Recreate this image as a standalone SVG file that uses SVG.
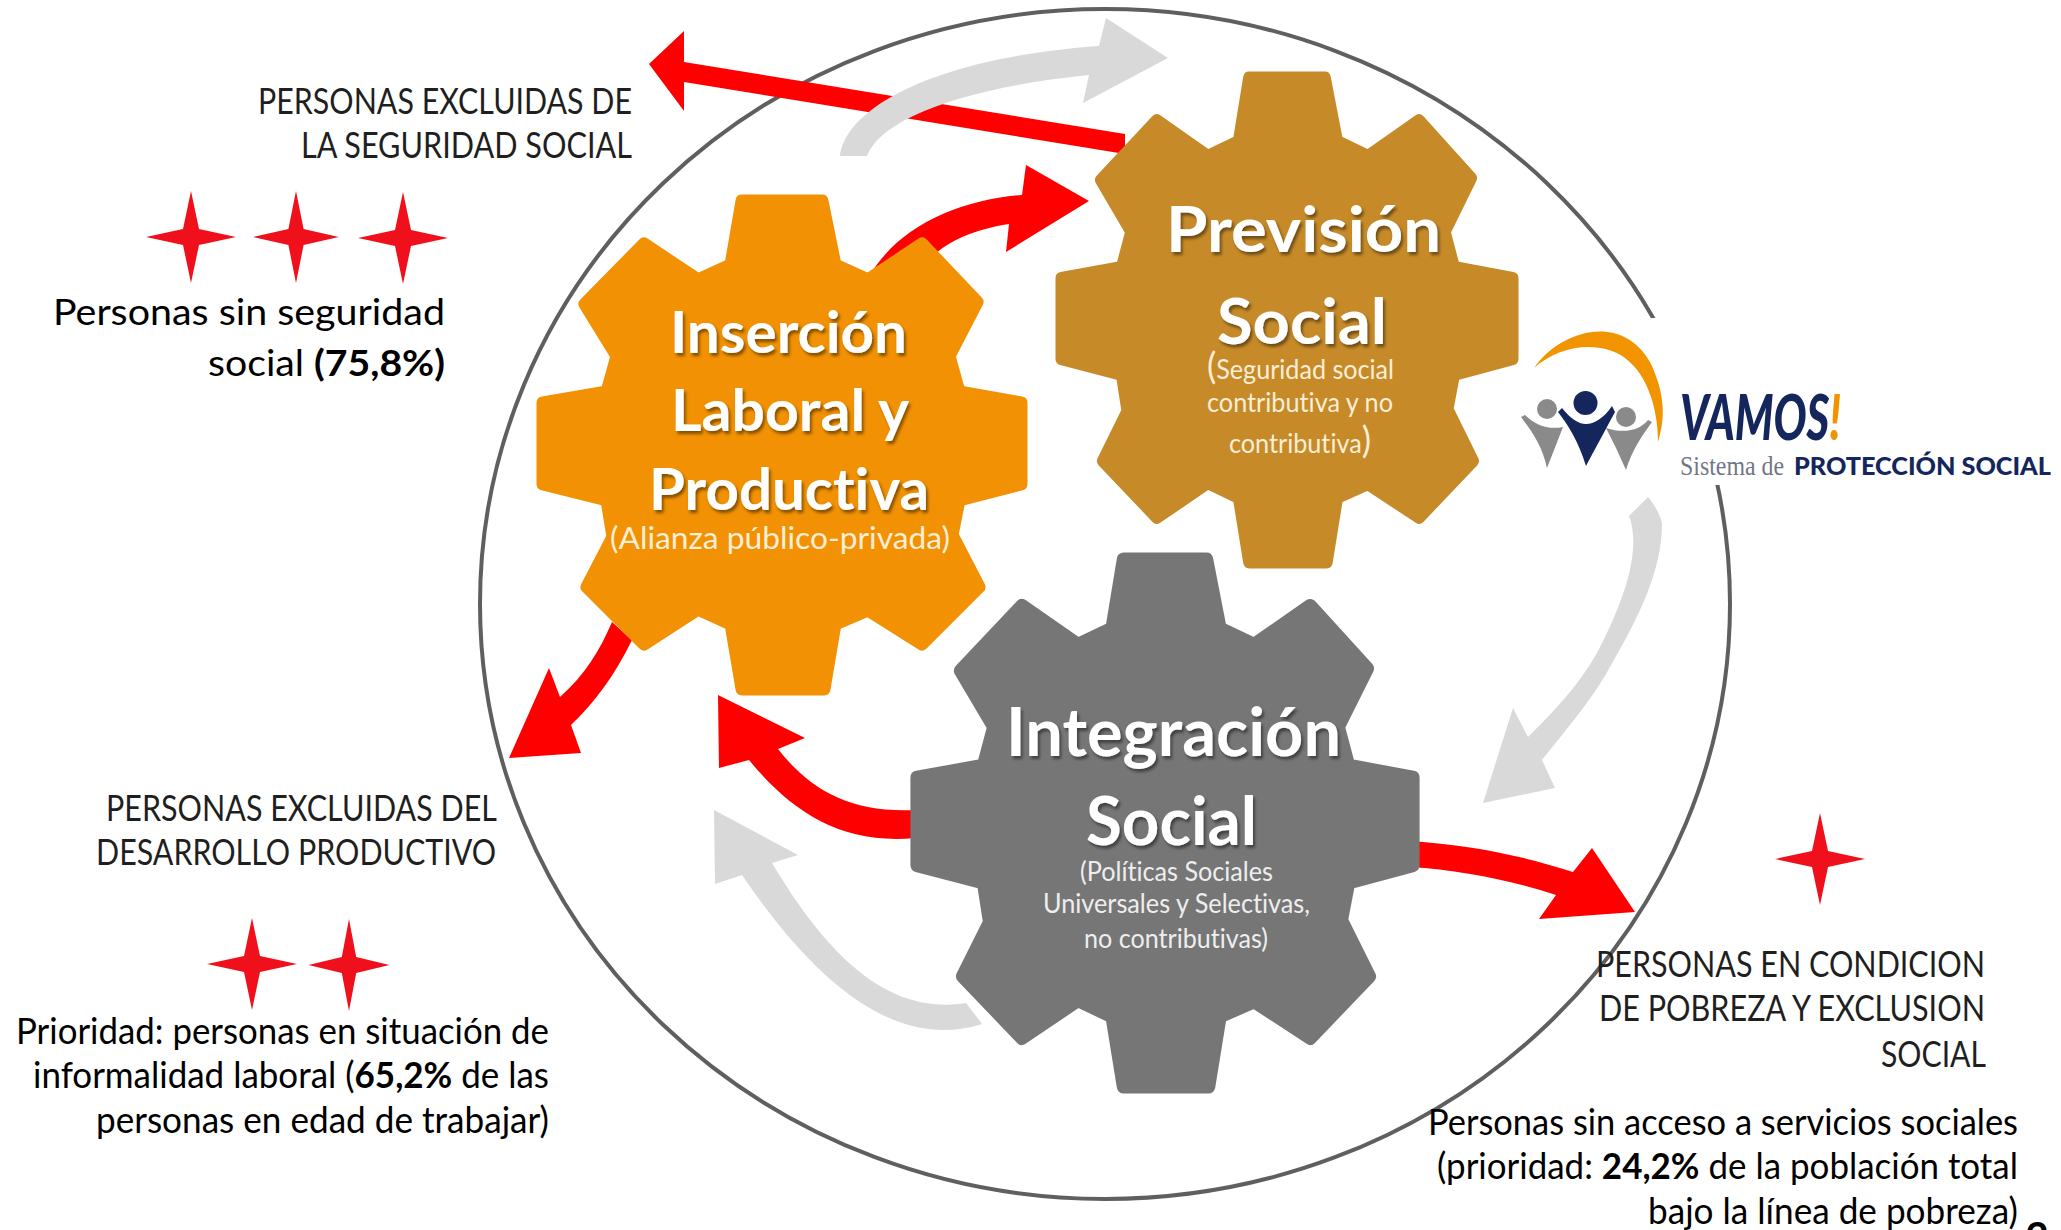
<svg xmlns="http://www.w3.org/2000/svg" xmlns:xlink="http://www.w3.org/1999/xlink" width="2061" height="1230" viewBox="0 0 2061 1230">
<style>
text{font-family:Lato,"Liberation Sans",sans-serif;font-variant-ligatures:none}
.t{font-weight:700;fill:#fff;filter:url(#sh)}
.s{fill:#fdeed6;font-size:30px}
.m{font-size:26px}
.g{fill:#eee}
.c{fill:#1f1f1f;font-size:36px;text-anchor:end}
.b{fill:#000;font-size:37px;text-anchor:end}
.b tspan{font-weight:700}
.red{fill:#fe0000}
.gry{fill:#d9d9d9}
.star{fill:#f0101c}
.gear{stroke-width:13;stroke-linejoin:round}
</style>
<defs>
<filter id="sh" x="-10%" y="-10%" width="120%" height="130%"><feDropShadow dx="2" dy="3" stdDeviation="1.5" flood-color="#000" flood-opacity=".45"/></filter>
<path id="gearShape" d="M-40,-244L40,-244L53,-180L86,-165L140,-201L195,-143L167,-89L177,-53L239,-42L239,39L177,55L170,90L197,142L140,199L86,165L53,179L42,244L-40,244L-51,179L-84,164L-138,199L-195,142L-169,92L-175,55L-239,39L-239,-42L-175,-53L-165,-89L-197,-141L-138,-201L-84,-165L-51,-180Z"/>
<path id="star4" d="M0,-46L8,-8L45,0L8,8L0,46L-8,8L-45,0L-8,-8Z"/>
</defs>
<rect width="2061" height="1230" fill="#fff"/>
<ellipse id="ring" cx="1105" cy="604" rx="625" ry="595" fill="none" stroke="#5f5f5f" stroke-width="4"/>
<rect x="1625" y="318" width="120" height="167" fill="#fff"/>
<g id="connectors">
<path class="red" d="M649,64L684,31L684,62L1125,134L1125,154L684,82L684,111Z"/>
<path class="gry" d="M840,156C845,110 930,58 1099,46L1106,18L1168,58L1083,103L1089,75C960,88 880,120 867,156Z"/>
<path class="red" d="M870,275C900,225 960,200 1022,195L1026,165L1089,201L1006,252L1009,224C965,231 940,246 920,268Z"/>
<path class="red" d="M509,758L549,668L560,697C585,675 600,650 612,622L632,640C615,675 595,702 571,725L581,753Z"/>
<path class="red" d="M718,695L805,738L778,749C810,790 850,813 915,810L915,838C840,845 790,810 749,760L719,768Z"/>
<path class="gry" d="M714,810L798,855L772,863C830,960 890,1015 966,1003L982,1024C900,1050 820,990 742,875L715,884Z"/>
<path class="red" d="M1410,841C1470,845 1520,855 1573,872L1592,848L1635,912L1539,919L1556,895C1510,880 1460,870 1410,867Z"/>
<path class="gry" d="M1648,497L1629,516C1640,545 1630,590 1597,653C1575,690 1555,710 1528,737L1513,708L1483,803L1555,788L1542,760C1570,725 1595,695 1610,667C1640,615 1662,570 1662,523C1660,515 1655,505 1648,497Z"/>
</g>
<g id="gear-insercion">
<use xlink:href="#gearShape" href="#gearShape" class="gear" fill="#f19103" stroke="#f19103" transform="translate(782,445)"/>
<text class="t" x="670" y="353" font-size="57" textLength="237" lengthAdjust="spacingAndGlyphs">Inserción</text>
<text class="t" x="671" y="431" font-size="57" textLength="238" lengthAdjust="spacingAndGlyphs">Laboral y</text>
<text class="t" x="649" y="510" font-size="57" textLength="280" lengthAdjust="spacingAndGlyphs">Productiva</text>
<text class="s" x="610" y="549" textLength="340" lengthAdjust="spacingAndGlyphs">(Alianza público-privada)</text>
</g>
<g id="gear-prevision">
<use xlink:href="#gearShape" href="#gearShape" class="gear" fill="#c68a29" stroke="#c68a29" transform="translate(1287,320) scale(.943,.992)"/>
<text class="t" x="1166" y="252" font-size="63" textLength="275" lengthAdjust="spacingAndGlyphs">Previsión</text>
<text class="t" x="1217" y="344" font-size="63" textLength="170" lengthAdjust="spacingAndGlyphs">Social</text>
<text class="s m" x="1207" y="379" textLength="187" lengthAdjust="spacingAndGlyphs"><tspan style="font-size:36px">(</tspan>Seguridad social</text>
<text class="s m" x="1207" y="412" textLength="186" lengthAdjust="spacingAndGlyphs">contributiva y no</text>
<text class="s m" x="1229" y="453" textLength="142" lengthAdjust="spacingAndGlyphs">contributiva<tspan style="font-size:36px">)</tspan></text>
</g>
<g id="gear-integracion">
<use xlink:href="#gearShape" href="#gearShape" class="gear" fill="#767676" stroke="#767676" transform="translate(1165,823) scale(1.037,1.08)"/>
<text class="t" x="1006" y="756" font-size="66" textLength="335" lengthAdjust="spacingAndGlyphs">Integración</text>
<text class="t" x="1086" y="845" font-size="66" textLength="171" lengthAdjust="spacingAndGlyphs">Social</text>
<text class="s m g" x="1080" y="881" textLength="193" lengthAdjust="spacingAndGlyphs">(Políticas Sociales</text>
<text class="s m g" x="1043" y="913" textLength="267" lengthAdjust="spacingAndGlyphs">Universales y Selectivas,</text>
<text class="s m g" x="1084" y="948" textLength="184" lengthAdjust="spacingAndGlyphs">no contributivas)</text>
</g>
<g id="logo">
<path fill="#f29400" d="M1534,368C1560,330 1622,312 1650,362C1666,395 1665,420 1658,442C1658,410 1648,375 1625,358C1600,340 1560,345 1534,368Z"/>
<circle cx="1547" cy="409" r="10" fill="#8a8a8a"/>
<circle cx="1626" cy="417" r="10" fill="#8a8a8a"/>
<path fill="#8a8a8a" d="M1521,417L1525,415C1535,425 1548,430 1563,427L1556,445L1547,468C1542,445 1532,432 1521,417Z"/>
<path fill="#8a8a8a" d="M1652,422L1648,420C1640,430 1625,434 1606,428L1616,448L1626,470C1632,450 1642,436 1652,422Z"/>
<ellipse cx="1585.5" cy="403" rx="12" ry="12" fill="#14265c"/>
<path fill="#14265c" d="M1558,412L1562,408C1570,418 1578,424 1586,424C1594,424 1604,418 1612,406L1615,412C1608,425 1600,440 1586,466C1578,440 1568,425 1558,412Z"/>
<text x="1680" y="440" font-size="62" font-weight="900" font-style="italic" fill="#14265c" textLength="161" lengthAdjust="spacingAndGlyphs">VAMOS<tspan fill="#f29400">!</tspan></text>
<text x="1680" y="475" font-size="28" fill="#6f7686" textLength="104" lengthAdjust="spacingAndGlyphs" style="font-family:'Liberation Serif',serif">Sistema de</text>
<text x="1794" y="475" font-size="25" font-weight="900" fill="#14265c" textLength="257" lengthAdjust="spacingAndGlyphs">PROTECCIÓN SOCIAL</text>
</g>
<g id="label-seguridad">
<text class="c" x="632" y="114" textLength="374" lengthAdjust="spacingAndGlyphs">PERSONAS EXCLUIDAS DE</text>
<text class="c" x="632" y="158" textLength="331" lengthAdjust="spacingAndGlyphs">LA SEGURIDAD SOCIAL</text>
<use xlink:href="#star4" href="#star4" class="star" transform="translate(191,237)"/>
<use xlink:href="#star4" href="#star4" class="star" transform="translate(296,237) scale(.95,1)"/>
<use xlink:href="#star4" href="#star4" class="star" transform="translate(403,238)"/>
<text class="b" x="445" y="325" textLength="392" lengthAdjust="spacingAndGlyphs">Personas sin seguridad</text>
<text class="b" x="445" y="376" textLength="237" lengthAdjust="spacingAndGlyphs">social <tspan>(75,8%)</tspan></text>
</g>
<g id="label-productivo">
<text class="c" x="497" y="821" textLength="391" lengthAdjust="spacingAndGlyphs">PERSONAS EXCLUIDAS DEL</text>
<text class="c" x="496" y="865" textLength="400" lengthAdjust="spacingAndGlyphs">DESARROLLO PRODUCTIVO</text>
<use xlink:href="#star4" href="#star4" class="star" transform="translate(252,964)"/>
<use xlink:href="#star4" href="#star4" class="star" transform="translate(349,965) scale(.9,1)"/>
<text class="b" x="549" y="1044" textLength="533" lengthAdjust="spacingAndGlyphs">Prioridad: personas en situación de</text>
<text class="b" x="549" y="1088" textLength="516" lengthAdjust="spacingAndGlyphs">informalidad laboral (<tspan>65,2%</tspan> de las</text>
<text class="b" x="549" y="1133" textLength="453" lengthAdjust="spacingAndGlyphs">personas en edad de trabajar)</text>
</g>
<g id="label-pobreza">
<use xlink:href="#star4" href="#star4" class="star" transform="translate(1820,859)"/>
<text class="c" x="1985" y="977" textLength="389" lengthAdjust="spacingAndGlyphs">PERSONAS EN CONDICION</text>
<text class="c" x="1985" y="1021" textLength="386" lengthAdjust="spacingAndGlyphs">DE POBREZA Y EXCLUSION</text>
<text class="c" x="1986" y="1067" textLength="105" lengthAdjust="spacingAndGlyphs">SOCIAL</text>
<text class="b" x="2018" y="1135" textLength="590" lengthAdjust="spacingAndGlyphs">Personas sin acceso a servicios sociales</text>
<text class="b" x="2018" y="1179" textLength="581" lengthAdjust="spacingAndGlyphs">(prioridad: <tspan>24,2%</tspan> de la población total</text>
<text class="b" x="2018" y="1224" textLength="370" lengthAdjust="spacingAndGlyphs">bajo la línea de pobreza)</text>
</g>
<text id="page-number" x="2037" y="1251" font-size="40" font-weight="700" text-anchor="middle" fill="#000">2</text>
</svg>
